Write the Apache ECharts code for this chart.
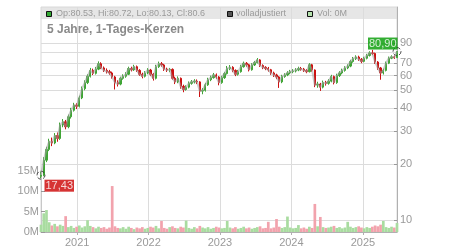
<!DOCTYPE html>
<html><head><meta charset="utf-8">
<script src="https://cdn.jsdelivr.net/npm/echarts@6/dist/echarts.min.js"></script>
<style>html,body{margin:0;padding:0;background:#fff}#c{width:450px;height:250px}</style>
</head><body><div id="c"></div>
<script>
const startDate = '2020-06-30';
const stepDays = 14;
const opens = [17.2,17.43,21.0,24.0,26.5,26.0,28.5,27.5,32.5,33.8,31.8,36.0,39.0,41.6,41.0,45.5,51.0,55.0,59.5,64.0,
61.7,65.0,69.5,66.0,64.0,63.0,62.0,59.0,55.0,54.0,58.0,59.5,61.0,65.5,64.5,67.0,64.0,61.0,59.5,62.0,
64.3,61.0,58.0,67.0,69.5,68.5,65.0,64.3,64.8,58.0,55.5,58.0,52.5,50.5,52.0,54.5,55.5,56.0,55.5,49.5,
50.0,53.5,57.0,58.5,60.5,59.0,55.0,58.5,61.5,65.5,66.5,64.0,61.0,63.0,67.0,69.9,68.6,64.5,68.5,70.5,
72.9,68.0,66.5,65.6,64.5,62.0,60.5,59.0,55.5,59.3,60.5,62.0,63.0,63.5,64.3,65.5,65.0,64.0,63.0,68.6,
64.3,53.4,54.0,52.0,55.0,54.5,56.0,59.3,55.0,60.0,62.0,64.0,66.0,67.5,71.5,74.0,75.5,73.5,71.6,74.4,
77.0,79.5,79.0,71.0,66.0,62.0,64.0,70.0,74.5,75.7,75.0];
const closes = [17.43,21.0,24.0,26.5,26.0,28.5,27.5,32.5,33.8,31.8,36.0,39.0,41.6,41.0,45.5,51.0,55.0,59.5,64.0,61.7,
65.0,69.5,66.0,64.0,63.0,62.0,59.0,55.0,54.0,58.0,59.5,61.0,65.5,64.5,67.0,64.0,61.0,59.5,62.0,64.3,
61.0,58.0,67.0,69.5,68.5,65.0,64.3,64.8,58.0,55.5,58.0,52.5,50.5,52.0,54.5,55.5,56.0,55.5,49.5,50.0,
53.5,57.0,58.5,60.5,59.0,55.0,58.5,61.5,65.5,66.5,64.0,61.0,63.0,67.0,69.9,68.6,64.5,68.5,70.5,72.9,
68.0,66.5,65.6,64.5,62.0,60.5,59.0,55.5,59.3,60.5,62.0,63.0,63.5,64.3,65.5,65.0,64.0,63.0,68.6,64.3,
53.4,54.0,52.0,55.0,54.5,56.0,59.3,55.0,60.0,62.0,64.0,66.0,67.5,71.5,74.0,75.5,73.5,71.6,74.4,77.0,
79.5,79.0,71.0,66.0,62.0,64.0,70.0,74.5,75.7,75.0,80.9];
const lows = [16.8,17.2,20.5,23.5,25.0,25.6,26.4,27.0,31.6,30.8,31.2,35.2,38.4,39.6,40.4,44.8,50.0,54.0,58.6,60.4,
60.8,64.2,65.0,62.8,61.6,60.6,57.8,50.5,52.4,53.2,57.0,58.4,60.4,63.2,63.6,62.8,59.8,58.0,58.6,61.0,
59.6,56.4,57.2,66.0,67.0,63.6,62.8,62.6,57.0,54.0,54.6,51.0,48.8,49.8,51.2,53.6,54.4,54.0,46.0,47.6,
49.2,52.8,56.0,57.8,57.6,53.2,54.2,57.6,60.8,64.2,62.6,59.6,60.0,62.2,66.2,67.0,63.2,63.8,67.6,69.8,
66.8,65.0,64.2,63.0,60.6,59.0,57.4,51.5,54.6,58.4,59.6,61.0,61.8,62.4,63.4,63.8,62.8,61.8,62.4,63.0,
52.0,51.6,49.6,51.2,53.0,53.6,55.2,53.8,54.2,59.0,61.0,63.0,65.0,66.6,70.4,72.8,72.0,70.0,70.8,73.4,
76.0,77.4,69.4,64.4,57.0,60.8,63.2,69.2,73.6,73.8,74.6];
const highs = [18.2,21.8,24.8,27.4,27.8,29.4,29.6,33.5,35.0,34.6,37.0,40.2,42.8,42.6,46.8,52.4,56.6,61.0,66.0,65.4,
66.8,71.6,70.8,67.2,65.6,64.4,63.0,59.8,56.6,59.2,61.0,62.6,67.0,67.0,68.6,68.0,65.0,62.2,63.4,65.8,
65.2,62.0,68.6,71.4,71.0,69.4,66.2,66.0,65.6,59.2,59.4,58.6,53.6,53.2,55.8,56.8,57.4,57.2,56.0,51.4,
54.8,58.4,60.0,62.0,61.6,59.6,59.8,62.8,67.6,68.4,67.4,64.8,64.4,68.6,71.4,71.0,69.4,70.0,72.0,74.6,
73.6,69.0,67.4,66.8,65.2,63.0,61.4,59.6,60.6,61.8,63.4,64.4,65.0,65.8,67.0,66.8,66.0,65.0,70.0,69.4,
64.8,55.6,54.8,56.4,56.2,57.4,60.6,60.0,61.4,63.4,65.4,67.4,69.0,73.0,75.6,77.2,76.8,74.6,75.8,78.6,
81.2,82.6,79.8,71.8,66.8,65.4,71.4,76.0,77.2,77.0,81.4];
const volumesM = [1.8,4.6,5.4,2.4,1.6,2.0,1.4,1.8,1.5,3.9,1.2,1.5,1.0,1.3,1.6,1.1,1.4,2.9,1.5,1.2,
0.9,1.3,1.0,1.2,0.8,1.1,11.3,1.4,1.0,0.9,1.2,0.8,1.3,1.0,0.7,1.1,0.9,1.2,0.8,1.0,
1.3,1.1,1.5,0.9,2.7,1.0,0.8,1.2,1.4,1.0,0.9,1.3,1.1,2.8,1.0,0.8,1.2,0.9,1.5,1.1,
0.9,1.2,0.8,1.0,1.3,1.1,0.9,1.0,2.7,1.1,0.9,1.2,0.8,1.0,1.3,0.9,1.1,0.8,1.0,1.2,
1.4,0.9,1.0,2.5,0.9,1.1,3.2,1.3,1.0,1.2,3.8,1.1,0.9,1.0,1.7,0.9,1.1,0.8,1.3,1.0,
6.9,1.4,3.7,1.2,1.0,1.1,1.3,1.5,1.0,1.2,0.9,1.1,2.5,1.3,1.0,1.2,1.4,1.1,0.9,1.2,
1.0,1.3,1.6,1.4,1.8,2.7,1.2,1.0,1.3,1.1,2.2];
const priceTicks = [10,20,30,40,50,60,70,80,90];
const volumeTicksM = [0,5,10,15];
const yearLabels = ['2021','2022','2023','2024','2025'];
const legendTexts = ['Op:80.53, Hi:80.72, Lo:80.13, Cl:80.6','volladjustiert','Vol: 0M'];
const titleText = '5 Jahre, 1-Tages-Kerzen';

const DAY = 86400000;
const t0 = Date.parse(startDate + 'T00:00:00Z');
const dates = closes.map((_, i) => t0 + i * stepDays * DAY);
const yearTs = yearLabels.map(y => Date.parse(y + '-01-01T00:00:00Z'));
const xMin = dates[0], xMax = dates[dates.length - 1];

const UP = '#3fa535', DOWN = '#cc1111';
const candleData = closes.map((c, i) => [dates[i], opens[i], c, lows[i], highs[i]]);
const volData = volumesM.map((v, i) => ({
  value: [dates[i], v * 1e6],
  itemStyle: { color: closes[i] >= opens[i] ? '#a9dca0' : '#f2a3ad' }
}));
const fmt = v => v.toFixed(2).replace('.', ',');
const last = closes.length - 1;

const chart = echarts.init(document.getElementById('c'));
chart.setOption({
  animation: false,
  grid: [
    { left: 41, right: 53, top: 7, bottom: 18, show: true, borderColor: '#d8d8d8', borderWidth: 1, backgroundColor: 'transparent' },
    { left: 41, right: 53, bottom: 18, height: 61 }
  ],
  xAxis: [
    { gridIndex: 0, type: 'value', min: xMin, max: xMax, scale: true,
      axisLine: { show: false }, axisLabel: { show: false },
      axisTick: { show: false, customValues: yearTs },
      splitLine: { show: true, lineStyle: { color: '#dcdcdc', width: 1 } } },
    { gridIndex: 1, type: 'value', min: xMin, max: xMax, scale: true,
      axisLine: { show: true, lineStyle: { color: '#b0b0b0' } },
      axisTick: { show: true, length: 3, customValues: yearTs, lineStyle: { color: '#b0b0b0' } },
      axisLabel: { customValues: yearTs, formatter: v => String(new Date(v).getUTCFullYear()),
        fontFamily: 'Liberation Sans', fontSize: 11, color: '#9a9a9a', margin: 5, hideOverlap: false },
      splitLine: { show: false } }
  ],
  yAxis: [
    { gridIndex: 0, type: 'log', logBase: 10, position: 'right', min: 8.61, max: 140.6,
      axisLine: { show: true, lineStyle: { color: '#b0b0b0' } },
      axisTick: { show: true, inside: true, length: 3, customValues: priceTicks, lineStyle: { color: '#999' } },
      axisLabel: { customValues: priceTicks, fontFamily: 'Liberation Sans', fontSize: 11, color: '#9a9a9a', margin: 3, hideOverlap: false,
        showMinLabel: true, showMaxLabel: true, interval: 0, formatter: v => String(Math.round(v)) },
      splitLine: { show: true, lineStyle: { color: '#dcdcdc', width: 1 } } },
    { gridIndex: 1, type: 'value', position: 'left', min: 0, max: 15e6, interval: 5e6,
      axisLine: { show: true, lineStyle: { color: '#c8c8c8' } },
      axisTick: { show: true, inside: true, length: 4, lineStyle: { color: '#999' } },
      axisLabel: { fontFamily: 'Liberation Sans', fontSize: 11, color: '#9a9a9a', margin: 2, formatter: v => (v / 1e6) + 'M' },
      splitLine: { show: false } }
  ],
  series: [
    { type: 'bar', xAxisIndex: 1, yAxisIndex: 1, data: volData, barWidth: 2.7 },
    { type: 'line', xAxisIndex: 0, yAxisIndex: 0, data: closes.map((c, i) => [dates[i], c]),
      symbol: 'none', lineStyle: { color: '#a0a0a0', width: 2, opacity: 0.55 } },
    { type: 'candlestick', xAxisIndex: 0, yAxisIndex: 0, data: candleData,
      encode: { x: 0, y: [1, 2, 3, 4] }, barWidth: 1.8,
      itemStyle: { color: UP, color0: DOWN, borderColor: UP, borderColor0: DOWN, borderWidth: 1 } },
    { type: 'scatter', xAxisIndex: 0, yAxisIndex: 0, clip: false, symbolSize: 8,
      itemStyle: { color: 'rgba(255,255,255,0)', borderColor: '#222', borderType: 'dashed', borderWidth: 1 },
      labelLayout: function (p) {
        const cx = p.rect.x + p.rect.width / 2, cy = p.rect.y + p.rect.height / 2;
        return p.dataIndex === 0
          ? { x: cx + 3.5, y: cy + 4.5, align: 'left', verticalAlign: 'top', moveOverlap: false, hideOverlap: false }
          : { x: cx - 29, y: cy - 14, align: 'left', verticalAlign: 'top', moveOverlap: false, hideOverlap: false };
      },
      data: [
        { value: [dates[0], closes[0]],
          label: { show: true, formatter: fmt(closes[0]), position: 'inside', align: 'left', verticalAlign: 'top',
            backgroundColor: '#cc0000', color: '#fff', fontFamily: 'Liberation Sans', fontSize: 11, padding: [1, 1, 0, 1] } },
        { value: [dates[last], closes[last]],
          label: { show: true, formatter: fmt(closes[last]), position: 'inside', align: 'left', verticalAlign: 'top',
            backgroundColor: '#009a00', color: '#fff', fontFamily: 'Liberation Sans', fontSize: 11, padding: [1, 1, 0, 1] } }
      ] }
  ],
  graphic: { elements: [
    { type: 'rect', shape: { x: 41, y: 7, width: 356, height: 12 }, style: { fill: '#e6e6e6' }, z: -10, silent: true },
    { type: 'rect', shape: { x: 46.5, y: 11.5, width: 5, height: 5 }, style: { fill: '#33aa33', stroke: '#111', lineWidth: 1 }, z: 10 },
    { type: 'text', x: 56, y: 14, style: { text: legendTexts[0], fill: '#9a9a9a', font: '9px Liberation Sans, Arial, sans-serif', verticalAlign: 'middle' }, z: 10 },
    { type: 'rect', shape: { x: 227.5, y: 11.5, width: 5, height: 5 }, style: { fill: '#555', stroke: '#111', lineWidth: 1 }, z: 10 },
    { type: 'text', x: 236, y: 14, style: { text: legendTexts[1], fill: '#9a9a9a', font: '9px Liberation Sans, Arial, sans-serif', verticalAlign: 'middle' }, z: 10 },
    { type: 'rect', shape: { x: 307.5, y: 11.5, width: 5, height: 5 }, style: { fill: '#b5e3ad', stroke: '#111', lineWidth: 1 }, z: 10 },
    { type: 'text', x: 317, y: 14, style: { text: legendTexts[2], fill: '#9a9a9a', font: '9px Liberation Sans, Arial, sans-serif', verticalAlign: 'middle' }, z: 10 },
    { type: 'text', x: 47, y: 30, style: { text: titleText, fill: '#8a8a8a', font: 'bold 12px Liberation Sans, Arial, sans-serif', verticalAlign: 'middle' }, z: 10 }
  ] }
});
</script></body></html>
